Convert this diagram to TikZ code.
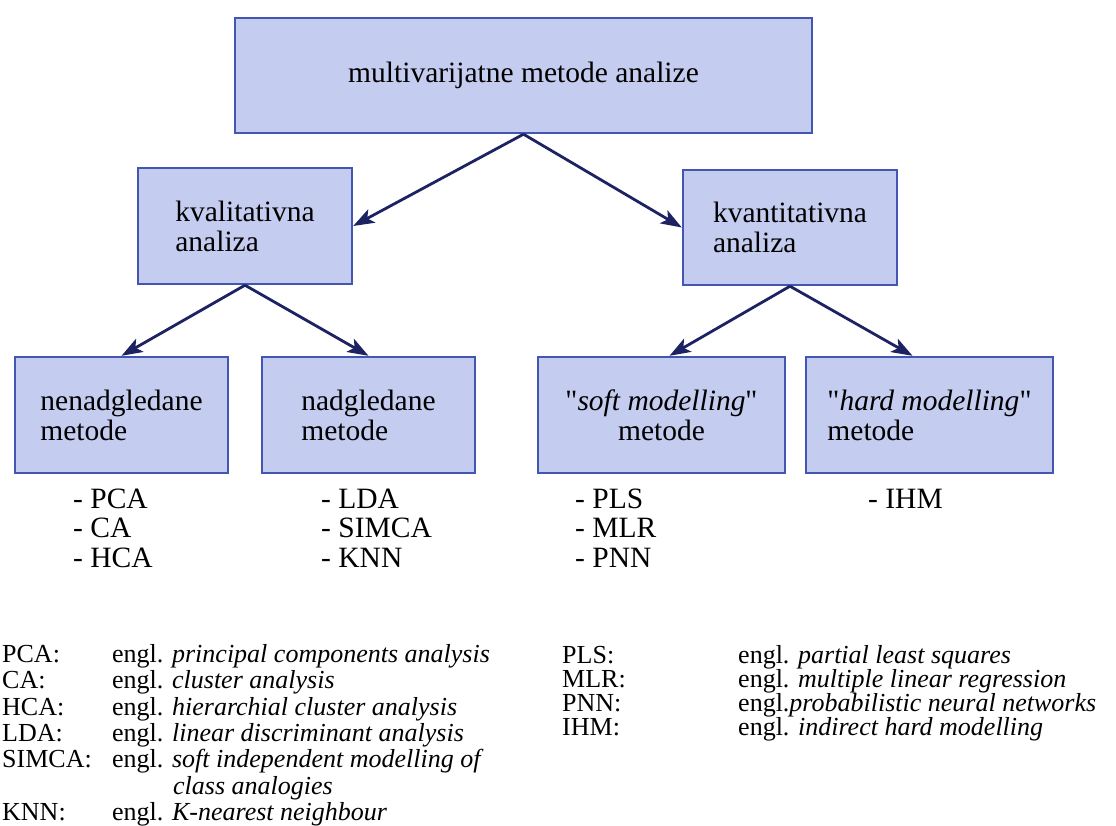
\documentclass[tikz,border=0pt]{standalone}
\usepackage{fontspec}
\setmainfont{Liberation Serif}
\newfontfamily\quotefont{Liberation Serif}
\usetikzlibrary{arrows.meta}
\definecolor{boxfill}{RGB}{196,204,240}
\definecolor{boxline}{RGB}{66,86,178}
\definecolor{arrowcol}{RGB}{28,34,98}
\newcommand{\dq}{{\quotefont"}}
\tikzset{
  box/.style={draw=boxline, fill=boxfill, line width=2.4pt, inner sep=0pt,
    font=\fontsize{29.5}{30}\selectfont},
  item/.style={anchor=base west, inner sep=0pt, font=\fontsize{29.5}{30}\selectfont},
  legend/.style={anchor=base west, inner sep=0pt, font=\fontsize{26}{26}\selectfont},
  link/.style={draw=arrowcol, line width=2.8pt,
    -{Stealth[length=21pt,width=15pt,inset=5pt]}}
}
\begin{document}
\begin{tikzpicture}[x=1pt,y=-1pt]
\useasboundingbox (0,0) rectangle (1116,826);
% boxes
\node [box, minimum width=577pt, minimum height=115pt] (multi) at (523.5,75.5) {multivarijatne metode analize};
\node [box, minimum width=214pt, minimum height=116pt, align=left] (kval) at (245,226) {kvalitativna\\analiza};
\node [box, minimum width=214pt, minimum height=115pt, align=left] (kvant) at (790,227.5) {kvantitativna\\analiza};
\node [box, minimum width=213pt, minimum height=116pt, align=left] (nenad) at (121.5,415) {nenadgledane\\metode};
\node [box, minimum width=213pt, minimum height=116pt, align=left] (nad) at (368.5,415) {nadgledane\\metode};
\node [box, minimum width=247pt, minimum height=116pt, align=center] (soft) at (661.5,415) {\dq\textit{soft modelling}\dq\\metode};
\node [box, minimum width=247pt, minimum height=116pt, align=left] (hard) at (929.5,415) {\dq\textit{hard modelling}\dq\\metode};
% arrows
\draw [link] (multi.south) -- (kval.east);
\draw [link] (multi.south) -- (kvant.west);
\draw [link] (kval.south) -- (nenad.north);
\draw [link] (kval.south) -- (nad.north);
\draw [link] (kvant.south) -- ([xshift=8pt]soft.north);
\draw [link] (kvant.south) -- ([xshift=-17pt]hard.north);
% methods
\node [item] (pca) at (73,508) {- PCA};
\node [item] (ca) at (73,537.5) {- CA};
\node [item] (hca) at (73,567) {- HCA};
\node [item] (lda) at (321,508) {- LDA};
\node [item] (simca) at (321,537.5) {- SIMCA};
\node [item] (knn) at (321,567) {- KNN};
\node [item] (pls) at (575,508) {- PLS};
\node [item] (mlr) at (575,537.5) {- MLR};
\node [item] (pnn) at (575,567) {- PNN};
\node [item] (ihm) at (868,508) {- IHM};
% legend, left
\node [legend] (lpca) at (2,662) {PCA:};
\node [legend] (epca) at (112,662) {engl. \textit{principal components analysis}};
\node [legend] (lca) at (2,688.5) {CA:};
\node [legend] (eca) at (112,688.5) {engl. \textit{cluster analysis}};
\node [legend] (lhca) at (2,715) {HCA:};
\node [legend] (ehca) at (112,715) {engl. \textit{hierarchial cluster analysis}};
\node [legend] (llda) at (2,741) {LDA:};
\node [legend] (elda) at (112,741) {engl. \textit{linear discriminant analysis}};
\node [legend] (lsimca) at (2,767.5) {SIMCA:};
\node [legend] (esimca) at (112,767.5) {engl. \textit{soft independent modelling of}};
\node [legend] (esimcb) at (173,794) {\textit{class analogies}};
\node [legend] (lknn) at (2,820) {KNN:};
\node [legend] (eknn) at (112,820) {engl. \textit{K-nearest neighbour}};
% legend, right
\node [legend] (lpls) at (562,663) {PLS:};
\node [legend] (epls) at (738,663) {engl. \textit{partial least squares}};
\node [legend] (lmlr) at (562,687) {MLR:};
\node [legend] (emlr) at (738,687) {engl. \textit{multiple linear regression}};
\node [legend] (lpnn) at (562,711) {PNN:};
\node [legend] (epnn) at (738,711) {engl.\textit{probabilistic neural networks}};
\node [legend] (lihm) at (562,735) {IHM:};
\node [legend] (eihm) at (738,735) {engl. \textit{indirect hard modelling}};
\end{tikzpicture}
\end{document}
